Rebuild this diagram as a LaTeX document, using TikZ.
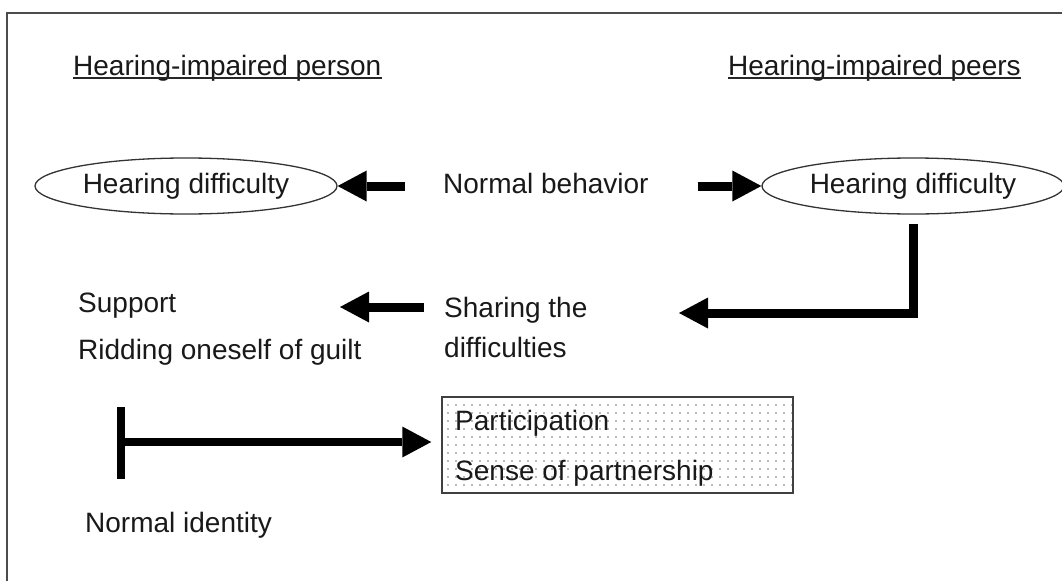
\documentclass[tikz,border=0pt]{standalone}
\usepackage{fontspec}
\setmainfont{Liberation Sans}
\usetikzlibrary{shapes.geometric,arrows.meta,patterns.meta}
\begin{document}
\begin{tikzpicture}[x=1pt,y=-1pt,
  txt/.style={inner sep=0pt, anchor=base west, text=black!90, font=\fontsize{28}{34}\selectfont},
  oval/.style={draw=black!80, line width=1.3pt, ellipse, minimum width=302pt, minimum height=56pt, inner sep=0pt, text=black!90, font=\fontsize{28}{34}\selectfont},
  bigarrow/.style={line width=9pt, -{Triangle[length=29pt,width=31pt,line width=0pt]}},
  frame/.style={black!70, line width=2.5pt},
  dotbox/.style={draw=black!75, line width=1.5pt, pattern={Dots[radius=0.8pt,distance=8pt]}, pattern color=black!55, minimum width=351pt, minimum height=96pt, inner sep=0pt},
  uline/.style={line width=1.5pt, black!85}
]
\clip (0,0) rectangle (1062,581);
\fill[white] (0,0) rectangle (1062,581);
\draw[frame] (7,581) -- (7,13) -- (1062,13);

% headings
\node[txt] (hp) at (73,75) {Hearing-impaired person};
\node[txt] (hq) at (728,75) {Hearing-impaired peers};
\draw[uline] ([yshift=-3pt]hp.base west) -- ([yshift=-3pt]hp.base east);
\draw[uline] ([yshift=-3pt]hq.base west) -- ([yshift=-3pt]hq.base east);

% top row
\node[oval] (hdL) at (186,186) {Hearing difficulty};
\node[oval] (hdR) at (913,186) {Hearing difficulty};
\node[txt] (nb) at (443,193) {Normal behavior};
\draw[bigarrow] ([xshift=-38pt]nb.west |- hdL.east) -- (hdL.east);
\draw[bigarrow] ([xshift=49pt]nb.east |- hdR.west) -- (hdR.west);

% middle row
\node[txt] (sh1) at (444,317) {Sharing the};
\node[txt] (sh2) at (444,357) {difficulties};
\node[txt] (sup) at (78,312) {Support};
\node[txt] (rid) at (78,359) {Ridding oneself of guilt};
\coordinate (shin) at (679,313);
\draw[bigarrow] ([yshift=-9pt]hdR.south) |- (shin);
\coordinate (supin) at (340,307);
\draw[bigarrow] ([xshift=-20pt]sh1.west |- supin) -- (supin);

% bottom row
\node[dotbox] (box) at (617.5,445) {};
\node[txt] (par) at (455,430) {Participation};
\node[txt] (sen) at (455,480) {Sense of partnership};
\coordinate (ttop) at (121,407);
\coordinate (tbot) at (121,479);
\coordinate (tmid) at (121,442);
\draw[line width=8pt] (ttop) -- (tbot);
\draw[bigarrow, line width=8pt] (tmid) -- ([xshift=-10pt]box.west |- tmid);
\node[txt] (ni) at (85,532) {Normal identity};
\end{tikzpicture}
\end{document}
